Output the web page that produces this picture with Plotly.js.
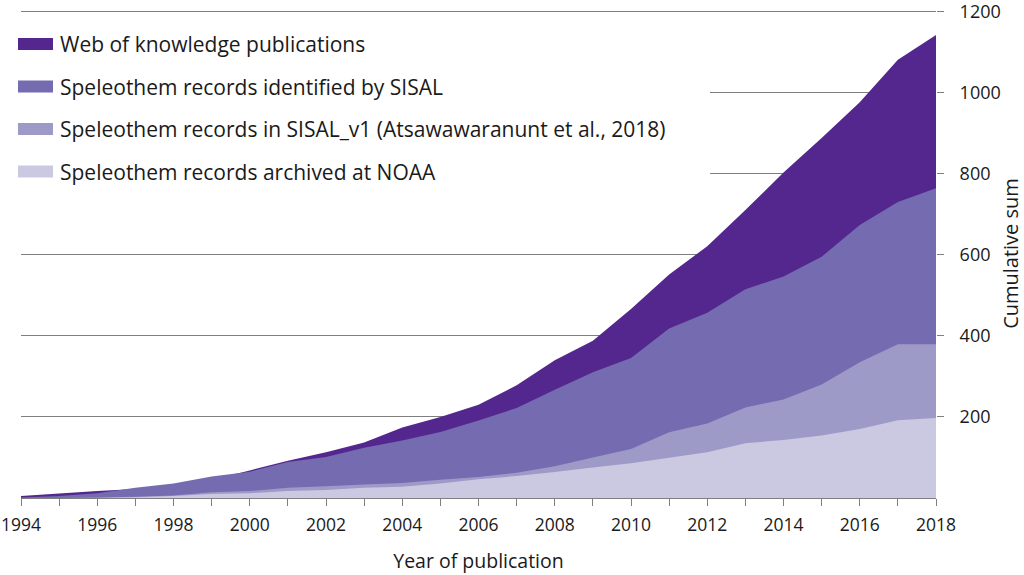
<!DOCTYPE html>
<html>
<head>
<meta charset="utf-8">
<script src="https://cdn.plot.ly/plotly-3.0.1.min.js"></script>
<style>html,body{margin:0;padding:0;background:#fff}#chart{width:1024px;height:575px}</style>
</head>
<body>
<div id="chart"></div>
<script>
const years = [1994,1995,1996,1997,1998,1999,2000,2001,2002,2003,2004,2005,2006,2007,2008,2009,2010,2011,2012,2013,2014,2015,2016,2017,2018];
const webOfKnowledge = [5,11,17,22,30,45,68,92,113,137,174,200,230,278,340,388,466,551,621,710,803,888,976,1081,1142];
const sisalIdentified = [1,5,12,25,36,53,65,89,101,124,142,163,191,222,267,310,345,418,457,515,546,595,673,730,764];
const sisalV1 = [0,0,1,3,6,14,17,25,29,33,37,45,52,62,78,100,121,162,184,223,243,280,335,379,379];
const noaa = [0,0,0,2,5,10,12,17,20,25,28,36,46,54,64,75,86,99,113,135,143,154,170,192,197];

const seriesNames = [
  'Web of knowledge publications',
  'Speleothem records identified by SISAL',
  'Speleothem records in SISAL_v1 (Atsawawaranunt et al., 2018)',
  'Speleothem records archived at NOAA'
];
const seriesColors = ['#54278f','#756bb1','#9e9ac8','#cbc9e2'];
const seriesValues = [webOfKnowledge, sisalIdentified, sisalV1, noaa];
const yTicks = [200,400,600,800,1000,1200];

const FONT = 'Open Sans, sans-serif';
const W = 1024, H = 575;
const M = {l: 21, r: 88, t: 9, b: 77};
const plotW = W - M.l - M.r, plotH = H - M.t - M.b;
const px2x = p => (p - M.l) / plotW;
const px2y = p => (H - M.b - p) / plotH;

const traces = seriesValues.map((vals, i) => ({
  x: years, y: vals, type: 'scatter', mode: 'none',
  fill: 'tozeroy', fillcolor: seriesColors[i],
  name: seriesNames[i], showlegend: false,
  hoverinfo: 'skip'
}));

// legend drawn as shapes + text (keeps the large swatches of the original)
const legendRows = [44, 86.5, 129, 171.5];
const shapes = [{
  type: 'rect', xref: 'paper', yref: 'paper', layer: 'above',
  x0: px2x(0), x1: px2x(710), y0: px2y(22), y1: px2y(195),
  fillcolor: '#ffffff', line: {width: 0}
}];
const annotations = [];
seriesNames.forEach((name, i) => {
  const cy = legendRows[i];
  shapes.push({
    type: 'rect', xref: 'paper', yref: 'paper', layer: 'above',
    x0: px2x(18), x1: px2x(53), y0: px2y(cy + 6), y1: px2y(cy - 6),
    fillcolor: seriesColors[i], line: {width: 0}
  });
  annotations.push({
    xref: 'paper', yref: 'paper', x: px2x(58), y: px2y(cy),
    xanchor: 'left', yanchor: 'middle', showarrow: false,
    text: name, font: {family: FONT, size: 21, color: '#1a1a1a'}
  });
});

const layout = {
  width: W, height: H,
  margin: M,
  paper_bgcolor: '#ffffff', plot_bgcolor: '#ffffff',
  font: {family: FONT, color: '#1a1a1a', size: 18},
  showlegend: false,
  shapes: shapes,
  annotations: annotations,
  xaxis: {
    range: [1994, 2018], tickmode: 'linear', tick0: 1994, dtick: 2,
    ticks: 'outside', ticklen: 7, tickcolor: '#7f7f7f', tickwidth: 1,
    minor: {dtick: 1, ticks: 'outside', ticklen: 7, tickcolor: '#7f7f7f', tickwidth: 1, showgrid: false},
    showline: true, linecolor: '#7f7f7f', linewidth: 1,
    showgrid: false, zeroline: false,
    ticklabeloverflow: 'allow',
    tickfont: {family: FONT, size: 17.5, color: '#1a1a1a'},
    ticklabelstandoff: 4,
    title: {text: 'Year of publication', font: {family: FONT, size: 19.5, color: '#1a1a1a'}, standoff: 19}
  },
  yaxis: {
    side: 'right', range: [0, 1206], tickvals: yTicks,
    ticks: 'outside', ticklen: 7, tickcolor: '#7f7f7f', tickwidth: 1,
    showline: false, showgrid: true, gridcolor: '#7f7f7f', gridwidth: 1,
    zeroline: false,
    ticklabeloverflow: 'allow',
    tickfont: {family: FONT, size: 18, color: '#1a1a1a'},
    ticklabelstandoff: 12,
    title: {text: 'Cumulative sum', font: {family: FONT, size: 20, color: '#1a1a1a'}, standoff: 16}
  }
};

Plotly.newPlot('chart', traces, layout, {displayModeBar: false, staticPlot: true});
</script>
</body>
</html>
